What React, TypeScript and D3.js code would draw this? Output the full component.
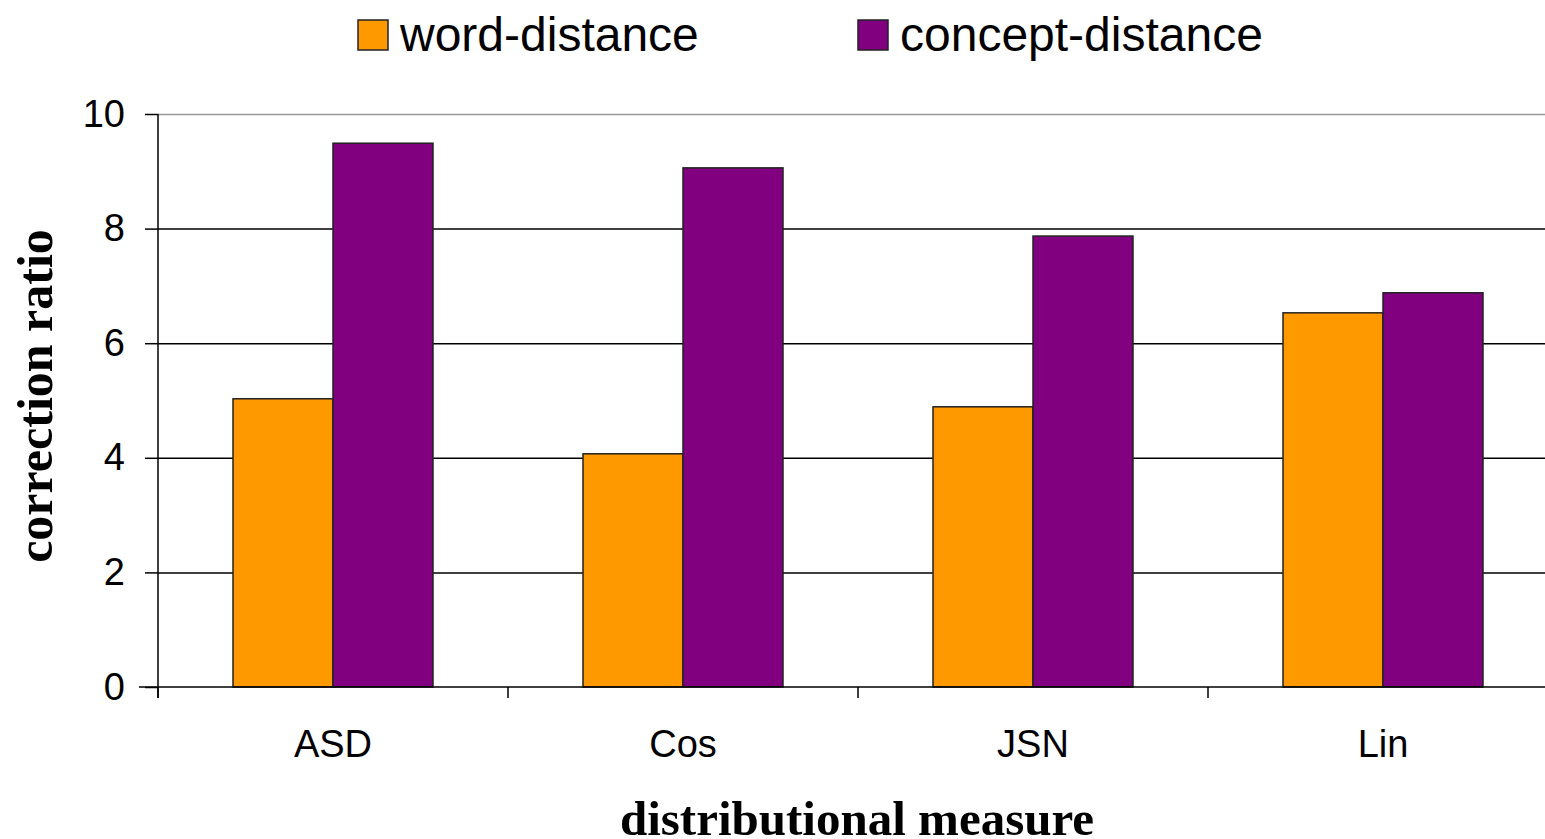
import { useEffect, useRef } from 'react';
import * as d3 from 'd3';

const categories = ['ASD', 'Cos', 'JSN', 'Lin'];
const seriesNames = ['word-distance', 'concept-distance'];
const wordDistance = [5.03, 4.07, 4.89, 6.53];
const conceptDistance = [9.49, 9.06, 7.87, 6.88];
const yTicks = [0, 2, 4, 6, 8, 10];
const colors = ['#FF9900', '#800080'];

export default function App() {
    const svgRef = useRef<SVGSVGElement>(null);
    const width = 1545;
    const height = 839;
    const margin = { top: 114, right: -13, bottom: 152, left: 158 };

    useEffect(() => {
        if (!svgRef.current) return;
        const svg = d3.select(svgRef.current);
        svg.selectAll('*').remove();

        const x0 = margin.left;
        const x1 = width - margin.right;
        const y0 = height - margin.bottom;

        const x = d3.scaleBand().domain(categories).range([x0, x1]).paddingInner(0).paddingOuter(0);
        const inner = d3.scaleBand().domain(seriesNames).range([0, x.bandwidth()]).paddingOuter(0.75).paddingInner(0);
        const y = d3.scaleLinear().domain([0, 10]).range([y0, margin.top]);

        // gridlines
        svg.append('g')
            .selectAll('line')
            .data(yTicks.filter(t => t > 0))
            .enter()
            .append('line')
            .attr('x1', x0)
            .attr('x2', width)
            .attr('y1', d => y(d) + 0.5)
            .attr('y2', d => y(d) + 0.5)
            .attr('stroke', d => (d === 10 ? '#999' : '#000'))
            .attr('stroke-width', 1.5);

        // bars
        const rows = categories.map((c, i) => ({ c, vals: [wordDistance[i], conceptDistance[i]] }));
        const groups = svg.append('g')
            .selectAll('g')
            .data(rows)
            .enter()
            .append('g')
            .attr('transform', d => `translate(${x(d.c)},0)`);
        groups.selectAll('rect')
            .data(d => d.vals.map((v, k) => ({ v, k })))
            .enter()
            .append('rect')
            .attr('x', d => inner(seriesNames[d.k])!)
            .attr('width', inner.bandwidth())
            .attr('y', d => y(d.v))
            .attr('height', d => y0 - y(d.v))
            .attr('fill', d => colors[d.k])
            .attr('stroke', '#222')
            .attr('stroke-width', 1.5);

        // y axis
        const yAxis = svg.append('g').attr('transform', `translate(${x0},0)`)
            .call(d3.axisLeft(y).tickValues(yTicks).tickSize(13).tickPadding(20).tickFormat(d3.format('d')));
        yAxis.select('.domain').attr('stroke', '#000').attr('stroke-width', 1.5).attr('d', `M0,${margin.top}V${y0 + 11}`);
        yAxis.selectAll('.tick line').attr('stroke', '#000').attr('stroke-width', 1.5);
        yAxis.selectAll('text')
            .attr('font-family', 'Arial, "Liberation Sans", sans-serif')
            .attr('font-size', 38)
            .attr('fill', '#000');

        // x axis
        const xAxis = svg.append('g').attr('transform', `translate(0,${y0})`);
        xAxis.append('line')
            .attr('x1', x0 - 19).attr('x2', width)
            .attr('y1', 0).attr('y2', 0)
            .attr('stroke', '#000').attr('stroke-width', 1.5);
        xAxis.selectAll('line.tk')
            .data(categories)
            .enter()
            .append('line')
            .attr('class', 'tk')
            .attr('x1', d => x(d)!).attr('x2', d => x(d)!)
            .attr('y1', 0).attr('y2', 11)
            .attr('stroke', '#000').attr('stroke-width', 1.5);
        xAxis.selectAll('text')
            .data(categories)
            .enter()
            .append('text')
            .attr('x', d => x(d)! + x.bandwidth() / 2)
            .attr('y', 70)
            .attr('text-anchor', 'middle')
            .attr('font-family', 'Arial, "Liberation Sans", sans-serif')
            .attr('font-size', 38)
            .text(d => d);

        // axis titles
        svg.append('text')
            .attr('x', 857)
            .attr('y', 835)
            .attr('text-anchor', 'middle')
            .attr('font-family', '"Times New Roman", "Liberation Serif", serif')
            .attr('font-weight', 'bold')
            .attr('font-size', 49)
            .text('distributional measure');
        svg.append('text')
            .attr('transform', `translate(52,396) rotate(-90)`)
            .attr('text-anchor', 'middle')
            .attr('font-family', '"Times New Roman", "Liberation Serif", serif')
            .attr('font-weight', 'bold')
            .attr('font-size', 50)
            .text('correction ratio');

        // legend
        const legendX = [358, 858];
        const legend = svg.append('g')
            .selectAll('g')
            .data(seriesNames)
            .enter()
            .append('g')
            .attr('transform', (_, i) => `translate(${legendX[i]},20)`);
        legend.append('rect')
            .attr('width', 30).attr('height', 30)
            .attr('fill', (_, i) => colors[i])
            .attr('stroke', '#222').attr('stroke-width', 1.5);
        legend.append('text')
            .attr('x', 42)
            .attr('y', 31)
            .attr('font-family', 'Arial, "Liberation Sans", sans-serif')
            .attr('font-size', 48)
            .text(d => d);
    }, []);

    return (
        <svg
            ref={svgRef}
            width={width}
            height={height}
            viewBox={`0 0 ${width} ${height}`}
            style={{ position: 'absolute', left: 0, top: 0, background: '#fff' }}
        />
    );
}
